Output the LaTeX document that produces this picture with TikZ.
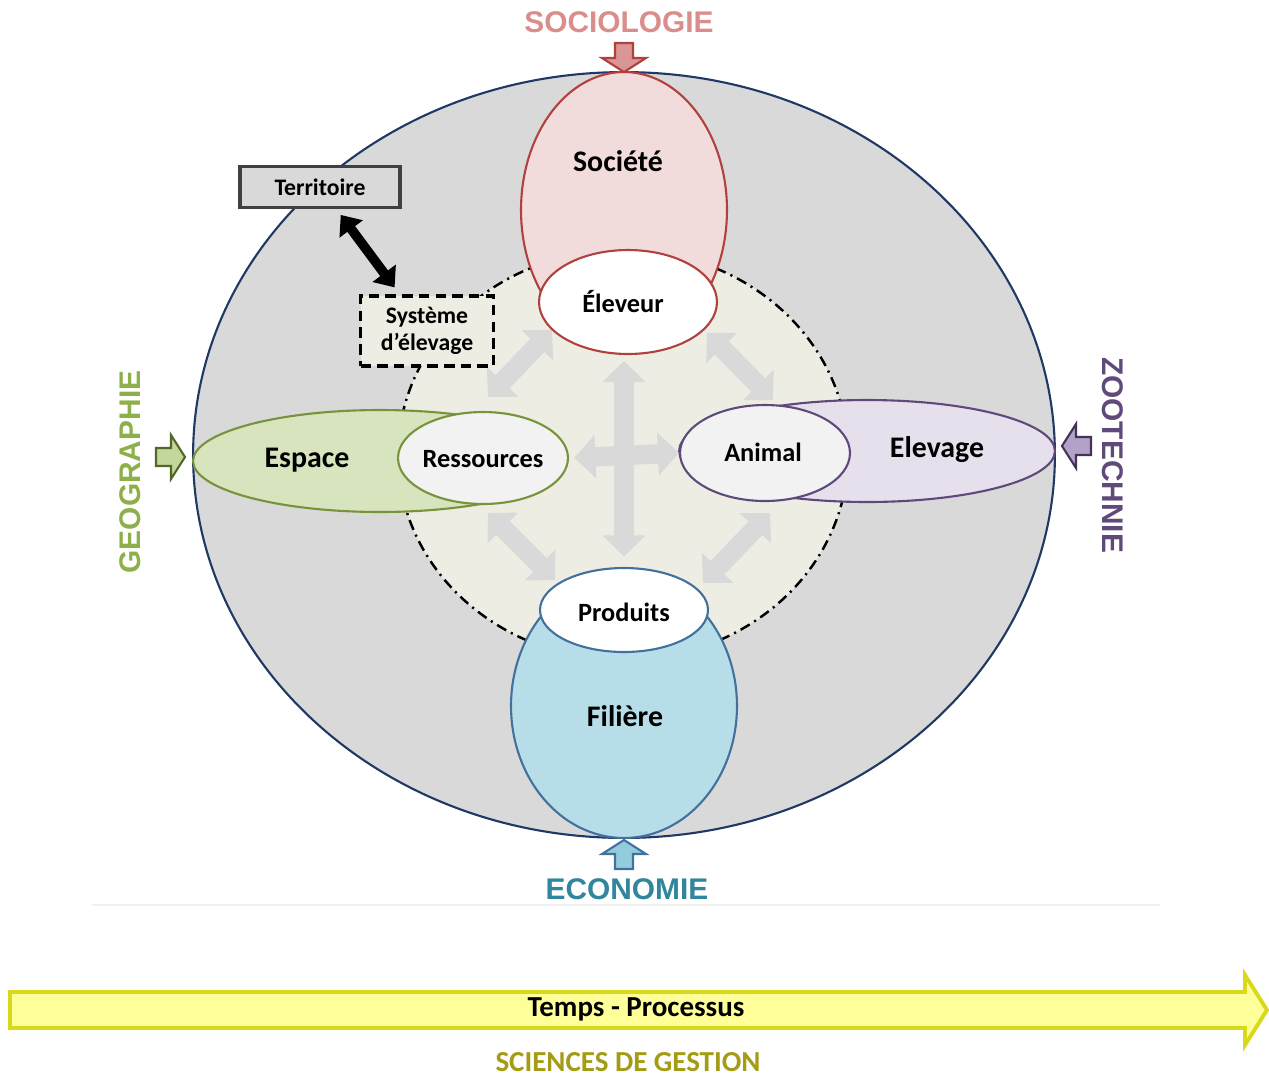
\documentclass[tikz,border=0pt]{standalone}
\usepackage{fontspec}
\setmainfont{Carlito}
\newfontfamily\arialfont{Liberation Sans}
\usetikzlibrary{shapes.geometric,arrows.meta}

\definecolor{outerfill}{HTML}{D9D9D9}
\definecolor{outerline}{HTML}{1F3864}
\definecolor{innerfill}{HTML}{EEEDE3}
\definecolor{arrowgray}{HTML}{D9D9D9}
\definecolor{socline}{HTML}{B0413E}
\definecolor{socfill}{HTML}{F2DCDB}
\definecolor{socarrow}{HTML}{D99694}
\definecolor{soctext}{HTML}{D98E8C}
\definecolor{ecoline}{HTML}{41719C}
\definecolor{ecofill}{HTML}{B7DEE8}
\definecolor{ecoarrow}{HTML}{93CDDD}
\definecolor{ecotext}{HTML}{31859C}
\definecolor{geoline}{HTML}{77933C}
\definecolor{geofill}{HTML}{D7E4BD}
\definecolor{geoarrow}{HTML}{C3D69B}
\definecolor{geotext}{HTML}{8DB04B}
\definecolor{zooline}{HTML}{5F497A}
\definecolor{zoofill}{HTML}{E6E0EC}
\definecolor{zooarrow}{HTML}{B3A2C7}
\definecolor{zootext}{HTML}{604A7B}
\definecolor{lightin}{HTML}{F2F2F2}
\definecolor{tempsfill}{HTML}{FFFF99}
\definecolor{tempsline}{HTML}{D9D91C}
\definecolor{gestiontext}{HTML}{A39C14}

\tikzset{
  zone/.style={ellipse,draw,line width=1.2pt,inner sep=0pt},
  bigtxt/.style={font=\bfseries\fontsize{17}{20}\selectfont},
  smalltxt/.style={font=\bfseries\fontsize{15}{18}\selectfont},
  boxtxt/.style={font=\bfseries\fontsize{13.5}{15.5}\selectfont},
  disctxt/.style={font=\arialfont\bfseries\fontsize{17}{20}\selectfont},
  grayarrow/.style={draw=arrowgray,line width=11pt,
    {Triangle[width=24pt,length=12pt]}-{Triangle[width=24pt,length=12pt]}},
  discarrow/.pic={
    \draw[pic actions,line width=1.2pt] (0,0) -- (-14,-22) -- (-14,-9) -- (-29,-9)
      -- (-29,9) -- (-14,9) -- (-14,22) -- cycle;
  }
}

\begin{document}
\begin{tikzpicture}[x=0.02cm,y=-0.02cm]
\useasboundingbox (0,0) rectangle (1269,1080);

%draw big ellipse and inner system
    \node[zone,draw=outerline,fill=outerfill,minimum width=17.24cm,minimum height=15.32cm] (monde) at (624,455) {};
    \node[ellipse,draw,fill=innerfill,line width=1.4pt,dash pattern=on 6pt off 3pt on 1.2pt off 3pt,
      minimum width=9cm,minimum height=8.2cm,inner sep=0pt] (coeur) at (623,455) {};

%draw gray arrows
    \foreach \n/\x/\y in {nwa/488/397, nwb/552/330, nea/707/333, neb/773/400,
                          swa/488/513, swb/555/580, sea/770/513, seb/703/583}
    \coordinate (\n) at (\x,\y);
    \draw[grayarrow] (nwa) -- (nwb);
    \draw[grayarrow] (nea) -- (neb);
    \draw[grayarrow] (swa) -- (swb);
    \draw[grayarrow] (sea) -- (seb);

%draw the four poles
    \node[zone,draw=socline,fill=socfill,minimum width=4.12cm,minimum height=5.52cm] (societe) at (624,210) {};
    \node[zone,draw=socline,fill=white,minimum width=3.56cm,minimum height=2.08cm] (eleveur) at (628,302) {};
    \node[zone,draw=ecoline,fill=ecofill,minimum width=4.52cm,minimum height=5.28cm] (filiere) at (624,706) {};
    \node[zone,draw=ecoline,fill=white,minimum width=3.36cm,minimum height=1.68cm] (produits) at (624,610) {};
    \node[zone,draw=geoline,fill=geofill,minimum width=7.48cm,minimum height=2.04cm] (espace) at (380,461) {};
    \node[zone,draw=geoline,fill=lightin,minimum width=3.4cm,minimum height=1.84cm] (ressources) at (483,458) {};
    \node[zone,draw=zooline,fill=zoofill,minimum width=7.52cm,minimum height=2.04cm] (elevage) at (867,451) {};
    \node[zone,draw=zooline,fill=lightin,minimum width=3.4cm,minimum height=1.92cm] (animal) at (765,453) {};

    \draw[grayarrow,shorten <=3pt] (ressources.east) -- (animal.west);
    \draw[grayarrow,shorten <=3.4pt,shorten >=6pt] (produits.north |- eleveur.south) -- (produits.north);

%draw the texts of the poles
    \node[bigtxt] (societetxt) at (618,161) {Société};
    \node[smalltxt] (eleveurtxt) at (623,302) {Éleveur};
    \node[bigtxt] (espacetxt) at (307,460) {Espace};
    \node[smalltxt] (ressourcestxt) at (483,459) {Ressources};
    \node[smalltxt] (animaltxt) at (763,452) {Animal};
    \node[bigtxt] (elevagetxt) at (937,450) {Elevage};
    \node[smalltxt] (produitstxt) at (624,612) {Produits};
    \node[bigtxt] (filieretxt) at (625,716) {Filière};

%draw territoire and systeme
    \node[draw=black!75,fill=outerfill,line width=2pt,minimum width=3.2cm,minimum height=0.82cm,
      boxtxt] (territoire) at (320,187) {Territoire};
    \node[draw=black,fill=innerfill,line width=1.8pt,dash pattern=on 6pt off 3.5pt,minimum width=2.66cm,
      minimum height=1.4cm,align=center,boxtxt] (systeme) at (427,331)
      {Système\\d'élevage};
    \draw[line width=5.5pt,{Triangle[width=16pt,length=10pt]}-{Triangle[width=16pt,length=10pt]},
      shorten <=4pt,shorten >=5pt] (territoire) -- (systeme);

%draw disciplines
    \pic[rotate=-90,fill=socarrow,draw=socline] at (624,72) {discarrow};
    \pic[rotate=0,fill=geoarrow,draw=geoline!70!black] at (185,457) {discarrow};
    \pic[rotate=180,fill=zooarrow,draw=zooline!70!black] at (1062,446) {discarrow};
    \pic[rotate=90,fill=ecoarrow,draw=ecoline] at (624,840) {discarrow};
    \node[disctxt,text=soctext] (socio) at (619,22) {SOCIOLOGIE};
    \node[disctxt,text=geotext,rotate=90] (geo) at (130,472) {GEOGRAPHIE};
    \node[disctxt,text=zootext,rotate=-90] (zoo) at (1113,455) {ZOOTECHNIE};
    \node[disctxt,text=ecotext] (eco) at (627,889) {ECONOMIE};

%draw time arrow
    \draw[black!6,line width=1.2pt] (92,905) -- (1160,905);
    \draw[fill=tempsfill,draw=tempsline,line width=2.2pt,line join=miter]
      (10,992) -- (1245,992) -- (1245,975) -- (1267,1010) -- (1245,1045) -- (1245,1028) -- (10,1028) -- cycle;
    \node[font=\bfseries\fontsize{16.5}{19}\selectfont] (temps) at (636,1009) {Temps - Processus};
    \node[font=\bfseries\fontsize{16.5}{19}\selectfont,text=gestiontext] (gestion) at (628,1062) {SCIENCES DE GESTION};

\end{tikzpicture}
\end{document}
